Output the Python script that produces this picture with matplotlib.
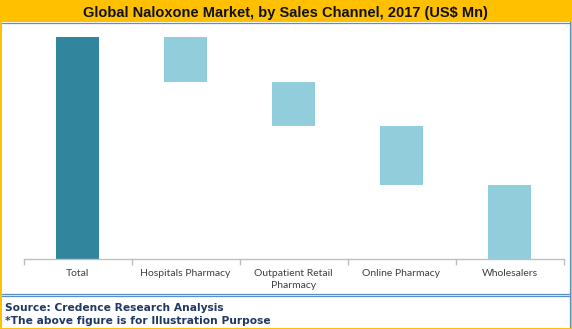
import matplotlib
matplotlib.use("Agg")
import matplotlib.pyplot as plt
from matplotlib.patches import Rectangle
from matplotlib.lines import Line2D
import numpy as np

categories = ["Total", "Hospitals Pharmacy", "Outpatient Retail\nPharmacy", "Online Pharmacy", "Wholesalers"]
segments = [20.0, 20.0, 26.7, 33.3]
total = 100.0

W, H = 572, 329
fig = plt.figure(figsize=(W / 100, H / 100), dpi=100)
fig.patch.set_facecolor("white")

def fx(x):
    return x / W

def fy(y):
    return 1 - y / H

# title band
fig.patches.append(Rectangle((0, fy(22)), 1, 22 / H, transform=fig.transFigure,
                             facecolor="#FFC000", edgecolor="none", zorder=0))
fig.text(fx(285), fy(12.5), "Global Naloxone Market, by Sales Channel, 2017 (US$ Mn)",
         ha="center", va="center", fontsize=10.5, fontweight="bold",
         family="Liberation Sans", color="#111111")
# blue separators
fig.add_artist(Line2D([fx(1.5), fx(570.5)], [fy(22.5), fy(22.5)], transform=fig.transFigure,
                      color="#5B8FC9", lw=0.9))
fig.add_artist(Line2D([fx(1.5), fx(570.5)], [fy(294), fy(294)], transform=fig.transFigure,
                      color="#5B8FC9", lw=0.9))
fig.add_artist(Line2D([fx(1.5), fx(570.5)], [fy(296.2), fy(296.2)], transform=fig.transFigure,
                      color="#5B8FC9", lw=0.9))
fig.add_artist(Line2D([fx(570), fx(570)], [fy(22), fy(328)], transform=fig.transFigure,
                      color="#5B8FC9", lw=0.9))
# yellow border
for (x0, y0, w, h) in [(0, 0, 1.5, H), (570.6, 0, 1.4, H), (0, 327.5, W, 1.5)]:
    fig.patches.append(Rectangle((fx(x0), fy(y0 + h)), w / W, h / H, transform=fig.transFigure,
                                 facecolor="#FFC000", edgecolor="none", zorder=5))

# axes
ax_left, ax_right = 23.5, 563.5
ax_top, ax_bottom = 26.0, 258.5
ax = fig.add_axes([fx(ax_left), fy(ax_bottom), (ax_right - ax_left) / W, (ax_bottom - ax_top) / H])
ax.set_facecolor("none")

x = np.arange(len(categories))
values = [total] + segments
bottoms = [0.0]
level = total
for s in segments:
    level -= s
    bottoms.append(level)
colors = ["#31859C"] + ["#92CDDC"] * len(segments)
ax.bar(x, values, bottom=bottoms, width=0.4, color=colors, edgecolor="none")

px_per_unit = (ax_bottom - 37.3) / total
ax.set_ylim(0, (ax_bottom - ax_top) / px_per_unit)
ax.set_xlim(-0.5, len(categories) - 0.5)
for s in ["top", "right", "left"]:
    ax.spines[s].set_visible(False)
ax.spines["bottom"].set_color("#BFBFBF")
ax.spines["bottom"].set_linewidth(1.0)
ax.set_yticks([])
ax.set_xticks(np.arange(-0.5, len(categories)), minor=False)
ax.set_xticklabels([])
ax.tick_params(axis="x", which="major", length=4, color="#BFBFBF", width=1.0)
ax.set_xticks(x, minor=True)
ax.set_xticklabels(categories, minor=True, fontsize=7.5, family="Lato", color="#404040",
                   linespacing=1.5)
ax.tick_params(axis="x", which="minor", length=0, pad=7.5)

fig.text(fx(5), fy(308), "Source: Credence Research Analysis", ha="left", va="center",
         fontsize=7.7, fontweight="bold", family="DejaVu Sans", color="#1F3864")
fig.text(fx(5), fy(321), "*The above figure is for Illustration Purpose", ha="left", va="center",
         fontsize=7.7, fontweight="bold", family="DejaVu Sans", color="#1F3864")

fig.savefig("out.png", dpi=100)
